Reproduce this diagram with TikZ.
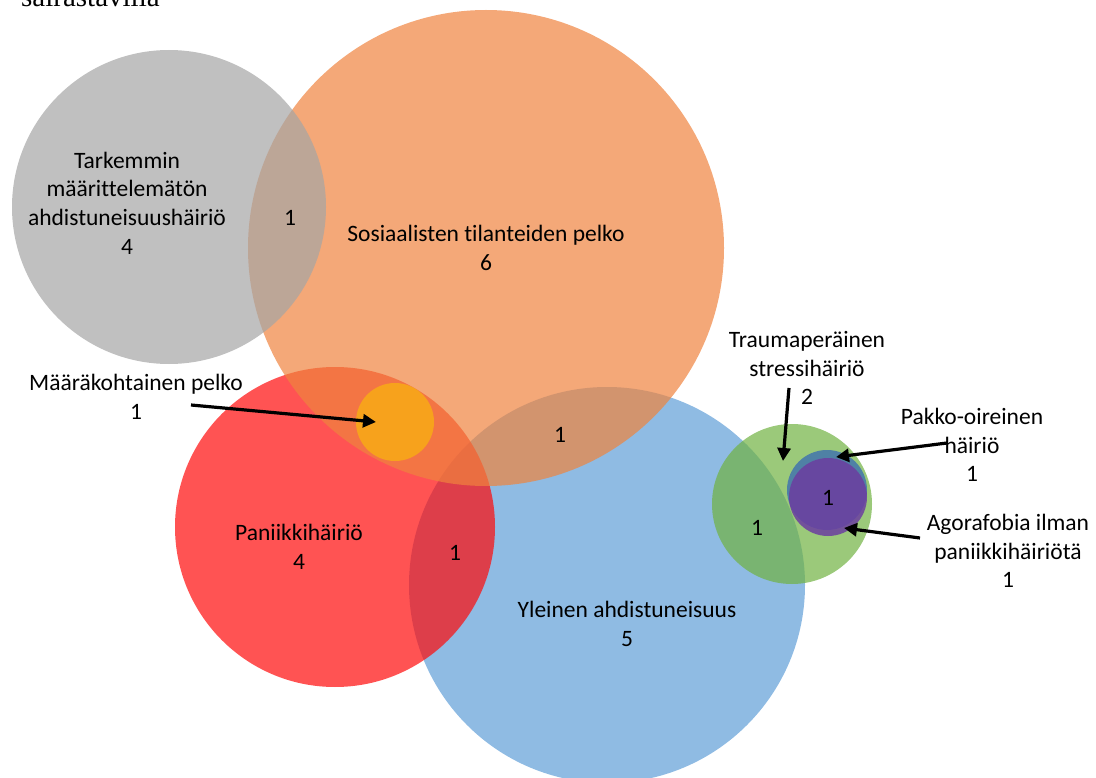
\documentclass[tikz,border=0pt]{standalone}
\usepackage{fontspec}
\setmainfont[Ligatures=NoCommon]{Carlito}
\newfontfamily\captionfont{Liberation Serif}
\usetikzlibrary{arrows.meta}
\definecolor{vgray}{RGB}{165,165,165}
\definecolor{vorange}{RGB}{239,131,62}
\definecolor{vred}{RGB}{255,10,10}
\definecolor{vblue}{RGB}{95,158,215}
\definecolor{vgreen}{RGB}{112,178,65}
\definecolor{vamber}{RGB}{248,165,26}
\definecolor{vteal}{RGB}{48,100,183}
\definecolor{vpurple}{RGB}{108,62,160}
\begin{document}
\begin{tikzpicture}[x=1pt, y=-1pt,
    zone/.style={fill opacity=0.7},
    venntext/.style={align=center, inner sep=0pt, font=\fontsize{23.5}{28.6}\selectfont},
    pointer/.style={line width=3.2pt, -{Triangle[length=13pt,width=13pt]}}]
    \useasboundingbox (0,0) rectangle (1096,778);
    \begin{scope}
    \clip (0,0) rectangle (1096,778);
    \node[anchor=base west, inner sep=0pt, font=\captionfont\fontsize{29}{31}\selectfont] (caption) at (21,7) {sairastavilla};
    % big circles, lowest first
    \fill[vblue, zone]   (607,585) circle[radius=198pt];
    \fill[vred, zone]    (335,527) circle[radius=160pt];
    \fill[vorange, zone] (486,248) circle[radius=238pt];
    \fill[vgray, zone]   (169,207) circle[radius=157pt];
    \fill[vamber, fill opacity=0.95] (395,422) circle[radius=39pt];
    %
    \fill[vgreen, zone]  (792,504) circle[radius=80pt];
    \fill[vteal, zone]   (827,490) circle[radius=40pt];
    \fill[vpurple, fill opacity=0.85] (828,497) circle[radius=39pt];
    \end{scope}
    % texts
    \node[venntext] (tark)  at (127,203) {Tarkemmin\\määrittelemätön\\ahdistuneisuushäiriö\\4};
    \node[venntext] (sos)   at (486,248) {Sosiaalisten tilanteiden pelko\\6};
    \node[venntext] (maar)  at (136,397) {Määräkohtainen pelko\\1};
    \node[venntext] (pan)   at (299,547) {Paniikkihäiriö\\4};
    \node[venntext] (yle)   at (627,624) {Yleinen ahdistuneisuus\\5};
    \node[venntext] (trau)  at (807,368) {Traumaperäinen\\stressihäiriö\\2};
    \node[venntext] (pakko) at (972,445) {Pakko-oireinen\\häiriö\\1};
    \node[venntext] (agora) at (1008,551) {Agorafobia ilman\\paniikkihäiriötä\\1};
    %
    \node[venntext] (n1) at (290,218) {1};
    \node[venntext] (n2) at (560,435) {1};
    \node[venntext] (n3) at (455,553) {1};
    \node[venntext] (n4) at (757,528) {1};
    \node[venntext] (n5) at (828,498) {1};
    % arrows
    \coordinate (maarA) at (191,405);  \coordinate (maarB) at (376,422);
    \coordinate (trauA) at (789,388);  \coordinate (trauB) at (783,461);
    \coordinate (pakkoA) at (947,443); \coordinate (pakkoB) at (836,457);
    \coordinate (agoraA) at (920,538); \coordinate (agoraB) at (844,528);
    \draw[pointer] (maarA) -- (maarB);
    \draw[pointer] (trauA) -- (trauB);
    \draw[pointer] (pakkoA) -- (pakkoB);
    \draw[pointer] (agoraA) -- (agoraB);
\end{tikzpicture}
\end{document}
